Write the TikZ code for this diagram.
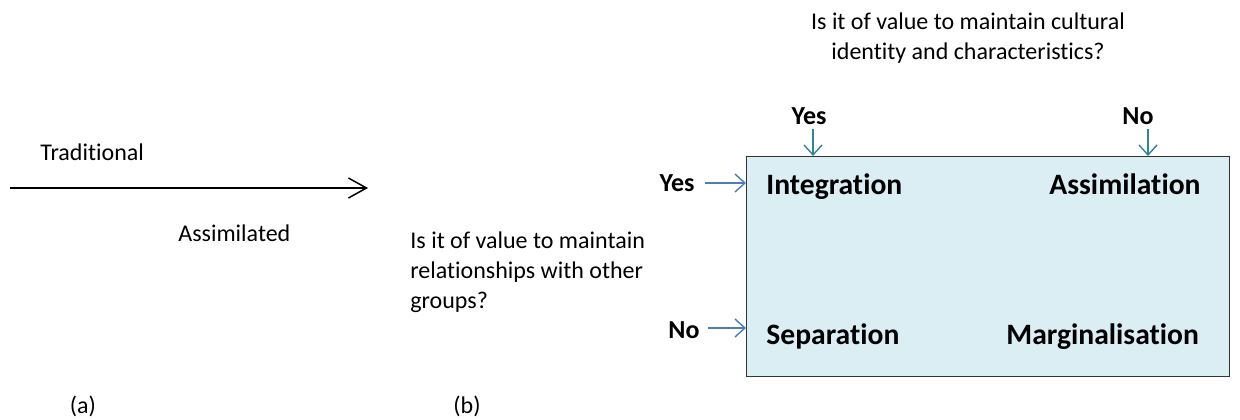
\documentclass[tikz,border=0pt]{standalone}
\usepackage{fontspec}
\setmainfont{Carlito}[Ligatures=NoCommon]
\usetikzlibrary{positioning,arrows.meta}
\definecolor{BoxFill}{RGB}{219,238,244}
\definecolor{SideBlue}{RGB}{74,126,187}
\definecolor{TopTeal}{RGB}{49,132,155}

\begin{document}
\begin{tikzpicture}[
    x=0.5pt, y=-0.5pt,
    font=\fontsize{12}{14.5}\selectfont,
    every node/.style={inner sep=0pt},
    choice/.style={font=\fontsize{13}{15}\selectfont\bfseries},
    strategy/.style={font=\fontsize{14.8}{17}\selectfont\bfseries, anchor=base west},
    question/.style={align=left, font=\fontsize{12}{15}\selectfont},
    sidearrow/.style={draw=SideBlue, line width=0.7pt, -{Straight Barb[length=5pt,width=9pt]}},
    toparrow/.style={draw=TopTeal, line width=0.7pt, -{Straight Barb[length=5pt,width=9pt]}},
  ]
  \useasboundingbox (0,0) rectangle (1240,419);

  % (a) acculturation continuum
  \coordinate (lineStart) at (10,188);
  \coordinate (lineEnd) at (368,188);
  \draw[line width=0.75pt, -{Straight Barb[length=9pt,width=10pt]}] (lineStart) -- (lineEnd);
  \node[anchor=west] (trad) at (40,152) {Traditional};
  \node[anchor=west] (assim) at (178,233) {Assimilated};
  \node (labA) at (83,406) {(a)};

  % (b) two-question model
  \node[draw=black!80, line width=0.6pt, fill=BoxFill, anchor=north west,
        minimum width=241.5pt, minimum height=110pt] (grid) at (746,156) {};
  \node[question, anchor=north west] (relQ) at (410,231)
    {Is it of value to maintain\\relationships with other\\groups?};
  \node[align=center, font=\fontsize{12}{15}\selectfont] (idQ) at (968,38)
    {Is it of value to maintain cultural\\identity and characteristics?};
  \node (labB) at (467,406) {(b)};

  % strategies
  \node[strategy] (integ) at (766,194) {Integration};
  \node[strategy] (assimil) at (1049,194) {Assimilation};
  \node[strategy] (separ) at (766,344) {Separation};
  \node[strategy] (margin) at (1006,344) {Marginalisation};

  % answers and arrows
  \node[choice] (topYes) at (809,116) {Yes};
  \node[choice] (topNo) at (1138,116) {No};
  \node[choice] (leftYes) at (677,183) {Yes};
  \node[choice] (leftNo) at (684,330) {No};
  \coordinate (tyEnd) at (813,156);
  \coordinate (tnEnd) at (1148,156);
  \coordinate (lyEnd) at (746,183);
  \coordinate (lnEnd) at (746,328);
  \draw[toparrow] (tyEnd |- topYes.south) ++(0,4) -- (tyEnd);
  \draw[toparrow] (tnEnd |- topNo.south) ++(0,4) -- (tnEnd);
  \draw[sidearrow] (leftYes.east) ++(10,0) -- (lyEnd);
  \draw[sidearrow] (leftNo.east) ++(8,-2) -- (lnEnd);
\end{tikzpicture}
\end{document}
